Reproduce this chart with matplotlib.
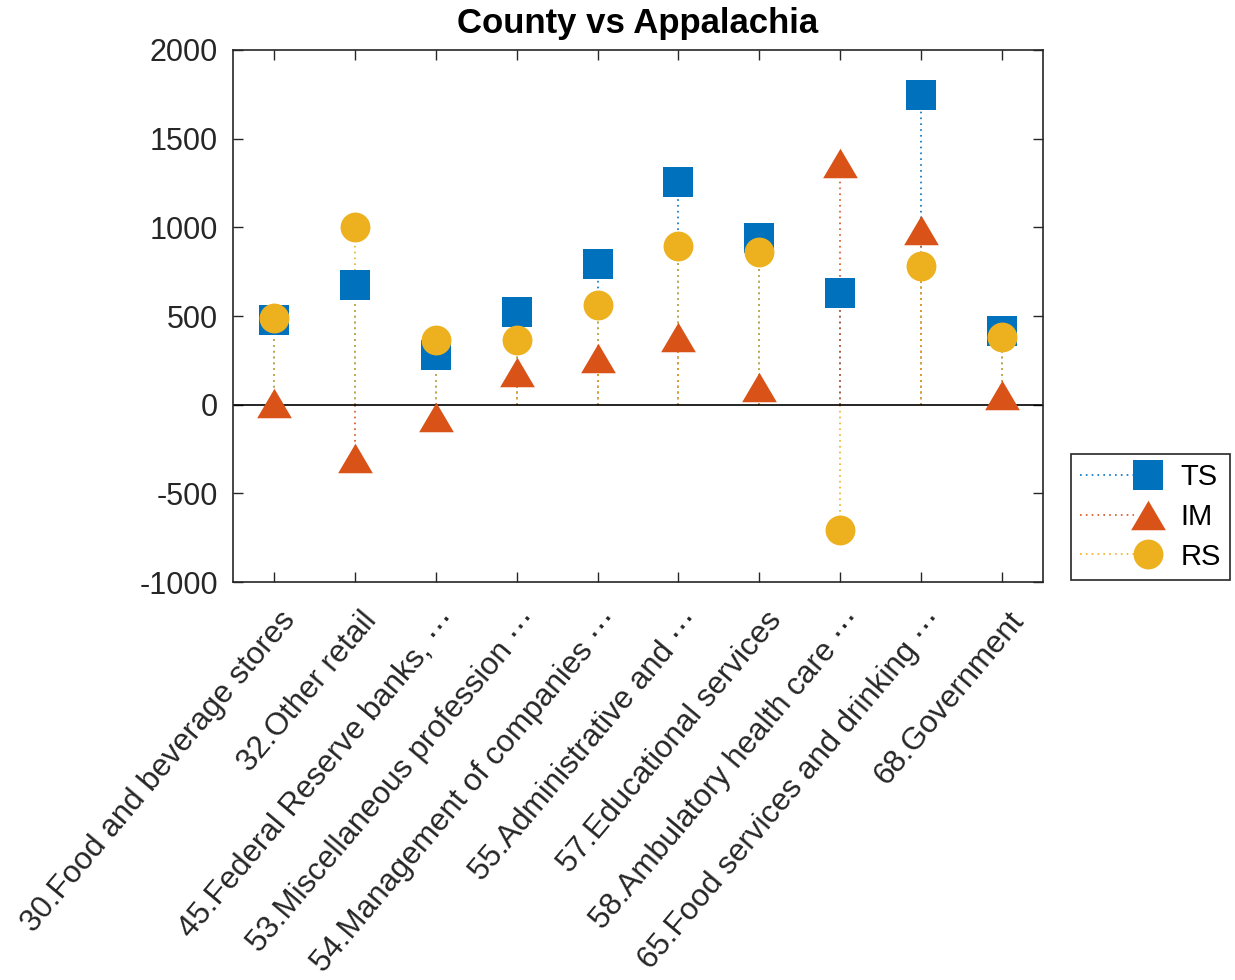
import matplotlib
matplotlib.use('Agg')
import matplotlib.pyplot as plt
from matplotlib.legend_handler import HandlerBase
from matplotlib.lines import Line2D
from matplotlib.transforms import ScaledTranslation
import numpy as np

plt.rcParams['font.family'] = ['Liberation Sans', 'DejaVu Sans']
plt.rcParams['axes.unicode_minus'] = False

categories = ['30.Food and beverage stores', '32.Other retail',
              '45.Federal Reserve banks, \u22ef', '53.Miscellaneous profession \u22ef',
              '54.Management of companies \u22ef', '55.Administrative and \u22ef',
              '57.Educational services', '58.Ambulatory health care \u22ef',
              '65.Food services and drinking \u22ef', '68.Government']
ts = [475, 676, 282, 524, 794, 1256, 941, 631, 1746, 417]
im = [10, -300, -68, 186, 265, 383, 101, 1363, 986, 56]
rs = [490, 1000, 366, 366, 563, 896, 862, -704, 783, 383]

blue = '#0072BD'
red = '#D95319'
yellow = '#EDB120'
dark = '#262626'

tri = [(-1, -0.85), (1, -0.85), (0, 0.85), (-1, -0.85)]


class StemHandler(HandlerBase):
    def create_artists(self, legend, orig, xdescent, ydescent, width, height,
                       fontsize, trans):
        y = height / 2 - ydescent
        x0 = -xdescent
        x1 = width - xdescent
        ln = Line2D([x0, x1 - 10], [y, y], linestyle=(0, (1, 2.5)),
                    color=orig.get_color(), lw=1.2, transform=trans)
        mk = Line2D([x1], [y], linestyle='none', marker=orig.get_marker(),
                    markersize=orig.get_markersize(), color=orig.get_color(),
                    markeredgewidth=0, transform=trans)
        return [ln, mk]


fig = plt.figure(figsize=(12.35, 9.8), dpi=100)
ax = fig.add_axes([0.1887, 0.4061, 0.6558, 0.5429])

x = np.arange(1, len(categories) + 1)
handles = []
for vals, col, mk, ms, name in [(ts, blue, 's', 21, 'TS'),
                                (im, red, tri, 25, 'IM'),
                                (rs, yellow, 'o', 21.5, 'RS')]:
    ax.vlines(x, 0, vals, colors=col, linestyles=(0, (1, 2.5)), lw=1.2, zorder=2)
    h, = ax.plot(x, vals, linestyle='none', marker=mk, markersize=ms, color=col,
                 markeredgewidth=0, zorder=3, label=name)
    handles.append(h)

ax.axhline(0, color='black', lw=1.2, zorder=2.5)

ax.set_xlim(0.5, 10.5)
ax.set_ylim(-1000, 2000)
ax.set_yticks(range(-1000, 2001, 500))
ax.set_xticks(x)
ax.set_xticklabels(categories, rotation=50, ha='right', va='center',
                   rotation_mode='anchor', fontsize=22.5, color=dark)
ax.tick_params(axis='both', direction='in', top=True, right=True, length=7,
               width=1, colors=dark)
ax.tick_params(axis='y', labelsize=22, pad=11)
ax.tick_params(axis='x', pad=0)
shift = ScaledTranslation(12 / 72, -24 / 72, fig.dpi_scale_trans)
for lbl in ax.get_xticklabels():
    lbl.set_transform(lbl.get_transform() + shift)
for s in ax.spines.values():
    s.set_color(dark)
    s.set_linewidth(1.2)

ax.set_title('County vs Appalachia', fontsize=25, fontweight='bold', pad=12)

leg = fig.legend(handles=handles, handler_map={Line2D: StemHandler()},
                 loc='lower left', bbox_to_anchor=(0.8672, 0.4082),
                 borderaxespad=0, fontsize=21, fancybox=False, framealpha=1,
                 edgecolor=dark, handlelength=2.33, handletextpad=1.1,
                 labelspacing=0.4, borderpad=0.32)
leg.get_frame().set_linewidth(1.2)

fig.savefig('out.png', dpi=100)
